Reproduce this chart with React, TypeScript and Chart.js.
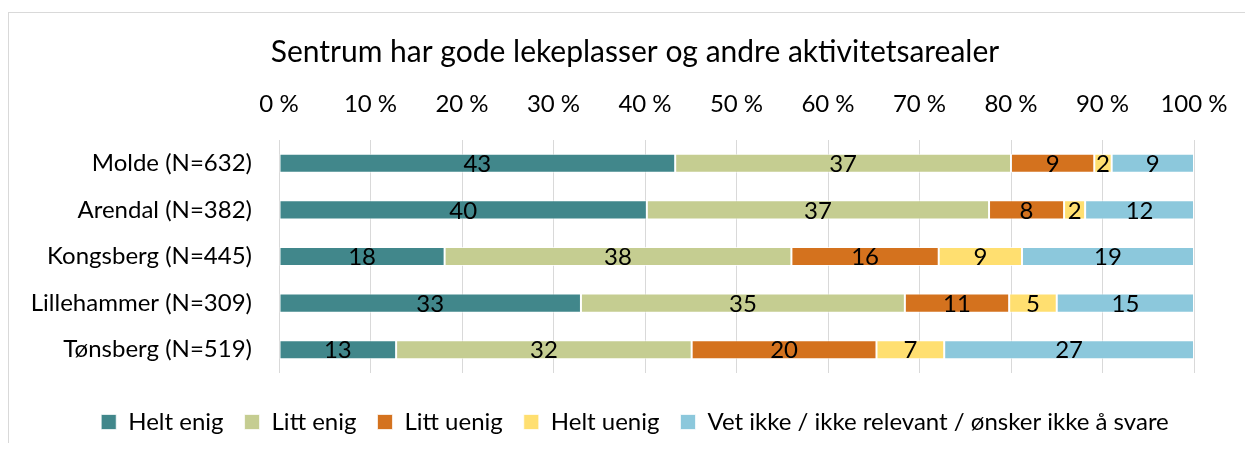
import React, { useEffect, useRef } from "react";
import { Chart, registerables } from "chart.js";

Chart.register(...registerables);

const TITLE = "Sentrum har gode lekeplasser og andre aktivitetsarealer";
const categories = [
  "Molde (N=632)",
  "Arendal (N=382)",
  "Kongsberg (N=445)",
  "Lillehammer (N=309)",
  "Tønsberg (N=519)",
];
const seriesNames = [
  "Helt enig",
  "Litt enig",
  "Litt uenig",
  "Helt uenig",
  "Vet ikke / ikke relevant / ønsker ikke å svare",
];
const heltEnig = [43.3, 40.2, 18.1, 33.0, 12.8];
const littEnig = [36.7, 37.4, 37.9, 35.4, 32.3];
const littUenig = [9.1, 8.2, 16.1, 11.4, 20.2];
const heltUenig = [1.9, 2.3, 9.1, 5.2, 7.4];
const vetIkke = [9.0, 11.9, 18.8, 15.0, 27.3];
const xTicks = [0, 10, 20, 30, 40, 50, 60, 70, 80, 90, 100];
const colors = ["#41878B", "#C5CD91", "#D4721E", "#FFDF70", "#8CC8DC"];

const FONT = "Lato";

const dataLabelPlugin = {
  id: "dataLabels",
  afterDatasetsDraw(chart: any) {
    const ctx = chart.ctx;
    ctx.save();
    ctx.font = `24px ${FONT}`;
    ctx.fillStyle = "#000";
    ctx.textAlign = "center";
    ctx.textBaseline = "middle";
    chart.data.datasets.forEach((ds: any, di: number) => {
      const meta = chart.getDatasetMeta(di);
      meta.data.forEach((el: any, i: number) => {
        const v = ds.data[i];
        const cx = (el.x + el.base) / 2;
        ctx.fillText(String(Math.round(v)), cx, el.y + 1);
      });
    });
    ctx.restore();
  },
};

export default function App() {
  const ref = useRef<HTMLCanvasElement | null>(null);
  useEffect(() => {
    document.body.style.overflow = "hidden";
    const all = [heltEnig, littEnig, littUenig, heltUenig, vetIkke];
    const chart = new Chart(ref.current as HTMLCanvasElement, {
      type: "bar",
      data: {
        labels: categories,
        datasets: all.map((d, i) => ({
          label: seriesNames[i],
          data: d,
          backgroundColor: colors[i],
          borderColor: "rgba(255,255,255,0.7)",
          borderWidth: 1,
          borderSkipped: false,
          categoryPercentage: 1,
          barPercentage: 0.41,
        })),
      },
      options: {
        indexAxis: "y",
        animation: false,
        responsive: false,
        devicePixelRatio: 1,
        layout: { padding: { left: 68, right: 59, top: 0, bottom: 0 } },
        plugins: {
          tooltip: { enabled: false },
          title: {
            display: true,
            text: TITLE,
            color: "#000",
            font: { family: FONT, size: 30, weight: "normal", lineHeight: 1.2 },
            padding: { top: 26, bottom: 0 },
          },
          legend: {
            position: "bottom",
            title: { display: true, text: "", padding: 0, font: { size: 13.3333, lineHeight: 1.2 } },
            labels: {
              color: "#000",
              font: { family: FONT, size: 24 },
              boxWidth: 15,
              boxHeight: 15,
              padding: 21,
            },
          },
        },
        scales: {
          x: {
            position: "top",
            stacked: true,
            min: 0,
            max: 100,
            afterBuildTicks(scale: any) {
              scale.ticks = xTicks.map((v) => ({ value: v }));
            },
            afterFit(scale: any) {
              scale.height = 70;
            },
            grid: { display: true, color: "#D9D9D9", lineWidth: 1, drawTicks: false },
            border: { display: false },
            ticks: {
              color: "#000",
              padding: 21.6,
              font: { family: FONT, size: 24 },
              maxRotation: 0,
              callback: (v: any) => `${v} %`,
            },
          },
          y: {
            stacked: true,
            afterFit(scale: any) {
              scale.width = 203;
              scale._computeLabelArea = () => undefined;
            },
            grid: { display: false, drawTicks: false },
            border: { display: false },
            ticks: {
              color: "#000",
              padding: 27,
              font: { family: FONT, size: 24 },
            },
          },
        },
      },
      plugins: [dataLabelPlugin],
    } as any);
    return () => chart.destroy();
  }, []);

  return (
    <div style={{ position: "relative", width: 1245, height: 435, overflow: "hidden" }}>
      <div
        style={{
          position: "absolute",
          left: 0,
          top: 4,
          width: 1400,
          height: 600,
          borderLeft: "1px solid #D9D9D9",
          borderTop: "1px solid #D9D9D9",
        }}
      />
      <canvas
        ref={ref}
        width={1245}
        height={436}
        style={{ position: "absolute", left: 0, top: 0, width: 1245, height: 436 }}
      />
    </div>
  );
}
